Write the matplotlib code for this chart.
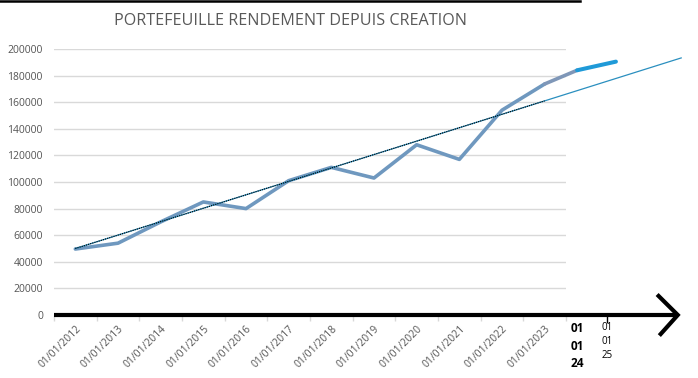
import numpy as np
import matplotlib.pyplot as plt
from matplotlib.lines import Line2D

# données
annees = ['01/01/2012', '01/01/2013', '01/01/2014', '01/01/2015', '01/01/2016',
          '01/01/2017', '01/01/2018', '01/01/2019', '01/01/2020', '01/01/2021',
          '01/01/2022', '01/01/2023']
valeurs = [49600, 54000, 70000, 85000, 80000, 101000, 111000, 103000,
           128000, 117000, 154000, 173700]

# prolongement ajouté à la main (2024, 2025)
ext_labels = ['01\n01\n24', '01\n01\n25']
ext_valeurs = [184000, 190500]

# droite de tendance (valeurs aux extrémités 2012 / 2023)
tendance_debut = 50000
tendance_fin_2023 = 161000

yticks = list(range(0, 200001, 20000))

W, H = 698, 378
fig = plt.figure(figsize=(W / 100, H / 100), dpi=100)
plt.rcParams['font.family'] = ['Open Sans', 'DejaVu Sans']

# zone de tracé: x 54..566 px, y 49..315 px
ax = fig.add_axes([54 / W, (H - 315) / H, (566 - 54) / W, (315 - 49) / H])
ax.set_xlim(-0.5, len(annees) - 0.5)
ax.set_ylim(0, 200000)

for s in ax.spines.values():
    s.set_visible(False)

ax.set_yticks(yticks)
ax.set_yticklabels([str(v) for v in yticks], fontsize=7.5, color='#555555')
ax.tick_params(axis='y', length=0, pad=8)
ax.yaxis.grid(True, color='#d9d9d9', linewidth=1)
ax.set_axisbelow(True)

x = np.arange(len(annees))
ax.set_xticks(x)
ax.set_xticklabels(annees, rotation=45, ha='right', va='top',
                   rotation_mode='anchor', fontsize=7.5, color='#555555')
ax.tick_params(axis='x', length=0, pad=6)
# petites graduations entre catégories
ax.set_xticks(np.arange(len(annees) + 1) - 0.5, minor=True)
ax.tick_params(axis='x', which='minor', length=4, color='#d8d8d8', width=1)

# série principale
ax.plot(x, valeurs, color='#6f98bf', linewidth=2.6, solid_capstyle='round',
        solid_joinstyle='round', zorder=3)

# prolongement
ext_x = [11.76, 12.67]
ax.plot([x[-1], ext_x[0]], [valeurs[-1], ext_valeurs[0]], color='#7f97b8',
        linewidth=2.6, solid_capstyle='round', clip_on=False, zorder=3)
ax.plot(ext_x, ext_valeurs, color='#1f9ad8', linewidth=2.9,
        solid_capstyle='round', clip_on=False, zorder=3)

# tendance
pente = (tendance_fin_2023 - tendance_debut) / (len(annees) - 1)
tx = np.array([0, 14.2])
ax.plot(tx, tendance_debut + pente * tx, color='#2a8fbf', linewidth=0.9,
        clip_on=False, zorder=4)
tx2 = np.array([0, len(annees) - 1])
ax.plot(tx2, tendance_debut + pente * tx2, color='black', linewidth=0.8,
        linestyle=(0, (1, 1)), zorder=5)

# axe horizontal épais avec flèche
ax.plot([-0.5, 14.1], [0, 0], color='black', linewidth=3, clip_on=False,
        solid_capstyle='butt', zorder=6)
ax.plot([13.67, 14.12, 13.72], [14300, 0, -14300], color='black',
        linewidth=3, clip_on=False, solid_joinstyle='miter', zorder=6)

# étiquettes 2024 / 2025
ax.text(ext_x[0], -5500, ext_labels[0], ha='center', va='top', fontsize=8.5,
        fontweight='bold', color='black', linespacing=1.45, clip_on=False)
ax.text(12.47, -5500, ext_labels[1], ha='center', va='top', fontsize=7,
        color='black', linespacing=1.35, clip_on=False)
ax.plot([12.47, 12.47], [0, -5000], color='black', linewidth=1, clip_on=False)

# titre
fig.text(290 / W, 1 - 21 / H, 'PORTEFEUILLE RENDEMENT DEPUIS CREATION',
         ha='center', va='center', fontsize=11.6, color='#595959')

# trait noir en haut
fig.add_artist(Line2D([0, 580 / W], [1 - 1 / H, 1 - 1 / H], color='black',
                      linewidth=1.8, transform=fig.transFigure))

fig.savefig('out.png', dpi=100)
